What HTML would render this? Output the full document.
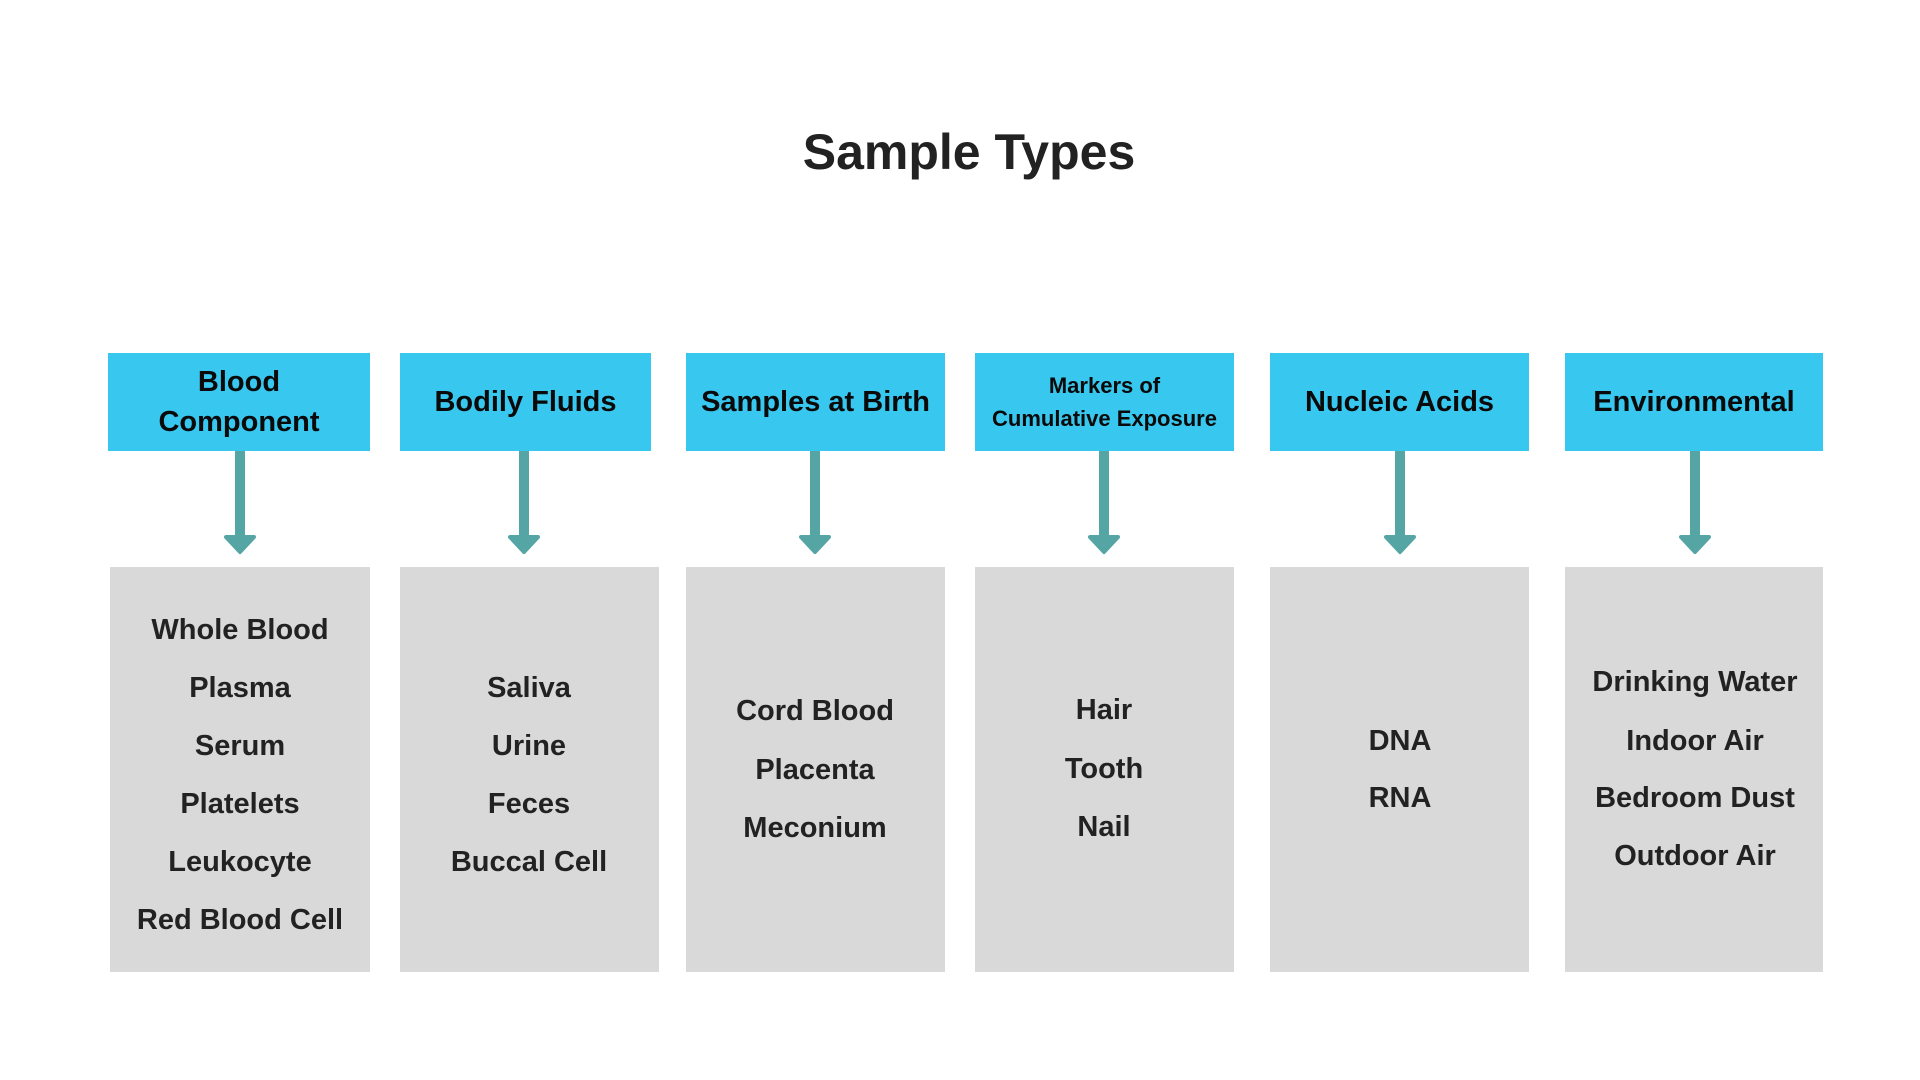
<!DOCTYPE html>
<html><head><meta charset="utf-8"><style>
body{margin:0;width:1920px;height:1080px;background:#fff;position:relative;overflow:hidden;font-family:"Liberation Sans",sans-serif;font-weight:bold;color:#222}
.t{position:absolute;left:9px;width:1920px;top:120px;text-align:center;font-size:50px;line-height:64px;color:#222}
.h{position:absolute;top:353px;height:98px;background:#38C7EF;color:#0a0a0a;display:flex;align-items:center;justify-content:center;text-align:center;font-size:29px;line-height:40px}
.b{position:absolute;top:567px;height:405px;background:#D9D9D9}
.i{position:absolute;width:300px;margin-left:-150px;text-align:center;font-size:29px;line-height:36px;height:36px;margin-top:-18px;color:#222}
</style></head><body>
<div class="t">Sample Types</div>

<div class="h" style="left:108px;width:262px">Blood<br>Component</div>
<div class="h" style="left:400px;width:251px">Bodily Fluids</div>
<div class="h" style="left:686px;width:259px">Samples at Birth</div>
<div class="h" style="left:975px;width:259px;font-size:22px;line-height:33px">Markers of<br>Cumulative Exposure</div>
<div class="h" style="left:1270px;width:259px">Nucleic Acids</div>
<div class="h" style="left:1565px;width:258px">Environmental</div>

<svg width="1920" height="1080" style="position:absolute;left:0;top:0">
<g fill="#55A5A5" stroke="#55A5A5" stroke-linejoin="round" stroke-width="4">
<rect x="235" y="451" width="10" height="88" stroke="none"/><polygon points="226,537 254,537 240,552"/>
<rect x="519" y="451" width="10" height="88" stroke="none"/><polygon points="510,537 538,537 524,552"/>
<rect x="810" y="451" width="10" height="88" stroke="none"/><polygon points="801,537 829,537 815,552"/>
<rect x="1099" y="451" width="10" height="88" stroke="none"/><polygon points="1090,537 1118,537 1104,552"/>
<rect x="1395" y="451" width="10" height="88" stroke="none"/><polygon points="1386,537 1414,537 1400,552"/>
<rect x="1690" y="451" width="10" height="88" stroke="none"/><polygon points="1681,537 1709,537 1695,552"/>
</g></svg>

<div class="b" style="left:110px;width:260px"></div>
<div class="b" style="left:400px;width:259px"></div>
<div class="b" style="left:686px;width:259px"></div>
<div class="b" style="left:975px;width:259px"></div>
<div class="b" style="left:1270px;width:259px"></div>
<div class="b" style="left:1565px;width:258px"></div>

<div class="i" style="left:240px;top:630px">Whole Blood</div>
<div class="i" style="left:240px;top:688px">Plasma</div>
<div class="i" style="left:240px;top:746px">Serum</div>
<div class="i" style="left:240px;top:804px">Platelets</div>
<div class="i" style="left:240px;top:862px">Leukocyte</div>
<div class="i" style="left:240px;top:920px">Red Blood Cell</div>

<div class="i" style="left:529px;top:688px">Saliva</div>
<div class="i" style="left:529px;top:746px">Urine</div>
<div class="i" style="left:529px;top:804px">Feces</div>
<div class="i" style="left:529px;top:862px">Buccal Cell</div>

<div class="i" style="left:815px;top:711px">Cord Blood</div>
<div class="i" style="left:815px;top:770px">Placenta</div>
<div class="i" style="left:815px;top:828px">Meconium</div>

<div class="i" style="left:1104px;top:710px">Hair</div>
<div class="i" style="left:1104px;top:769px">Tooth</div>
<div class="i" style="left:1104px;top:827px">Nail</div>

<div class="i" style="left:1400px;top:741px">DNA</div>
<div class="i" style="left:1400px;top:798px">RNA</div>

<div class="i" style="left:1695px;top:682px">Drinking Water</div>
<div class="i" style="left:1695px;top:741px">Indoor Air</div>
<div class="i" style="left:1695px;top:798px">Bedroom Dust</div>
<div class="i" style="left:1695px;top:856px">Outdoor Air</div>
</body></html>
